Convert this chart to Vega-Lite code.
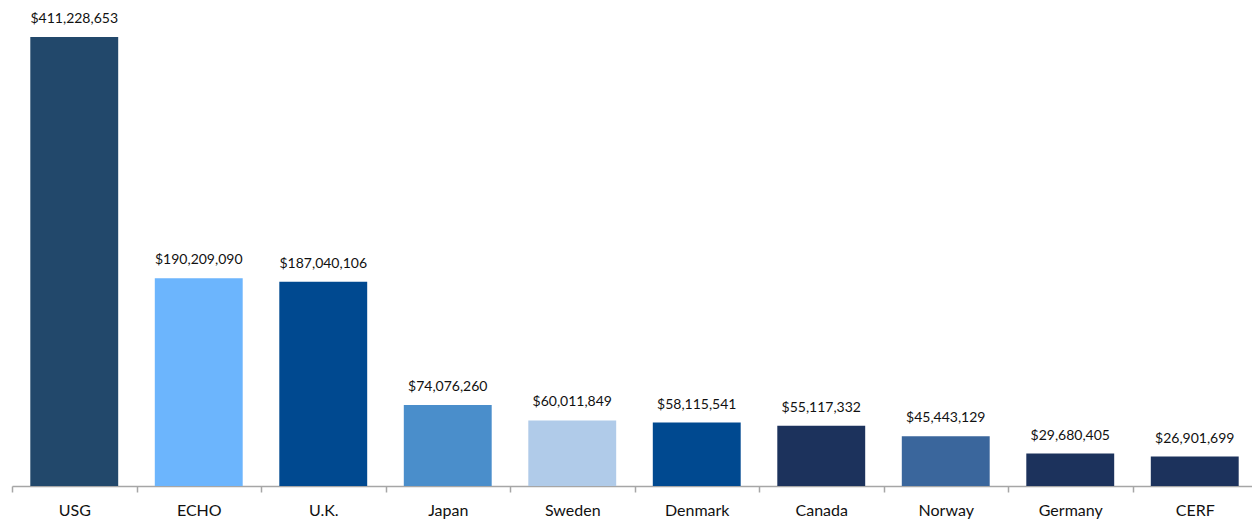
{
  "$schema": "https://vega.github.io/schema/vega-lite/v6.json",
  "width": 1245,
  "height": 486,
  "autosize": "none",
  "padding": {"left": 12, "top": 0, "right": 0, "bottom": 36},
  "config": {"view": {"stroke": null}, "font": "Lato"},
  "data": {
    "values": [
      {"donor": "USG", "amount": 411228653},
      {"donor": "ECHO", "amount": 190209090},
      {"donor": "U.K.", "amount": 187040106},
      {"donor": "Japan", "amount": 74076260},
      {"donor": "Sweden", "amount": 60011849},
      {"donor": "Denmark", "amount": 58115541},
      {"donor": "Canada", "amount": 55117332},
      {"donor": "Norway", "amount": 45443129},
      {"donor": "Germany", "amount": 29680405},
      {"donor": "CERF", "amount": 26901699}
    ]
  },
  "encoding": {
    "x": {
      "field": "donor",
      "type": "nominal",
      "sort": null,
      "scale": {"paddingInner": 0, "paddingOuter": 0},
      "axis": {
        "title": null,
        "labelAngle": 0,
        "labelFontSize": 16,
        "labelColor": "#111111",
        "labelPadding": 10,
        "domainColor": "#a6a6a6",
        "domainWidth": 1.5,
        "tickColor": "#a6a6a6",
        "tickWidth": 1.5,
        "tickSize": 6,
        "tickBand": "extent"
      }
    },
    "y": {
      "field": "amount",
      "type": "quantitative",
      "scale": {"domain": [0, 445000000], "nice": false},
      "axis": null
    }
  },
  "layer": [
    {
      "mark": {"type": "bar", "width": {"band": 0.706}},
      "encoding": {
        "color": {
          "field": "donor",
          "type": "nominal",
          "legend": null,
          "scale": {
            "domain": ["USG", "ECHO", "U.K.", "Japan", "Sweden", "Denmark", "Canada", "Norway", "Germany", "CERF"],
            "range": ["#22486b", "#6cb5fd", "#004990", "#4a8ecb", "#b0cbe9", "#004990", "#1c325c", "#3a669c", "#1c325c", "#1c325c"]
          }
        }
      }
    },
    {
      "mark": {"type": "text", "baseline": "bottom", "dy": -11, "fontSize": 14, "color": "#111111"},
      "encoding": {
        "text": {"field": "amount", "type": "quantitative", "format": "$,.0f"}
      }
    }
  ]
}
